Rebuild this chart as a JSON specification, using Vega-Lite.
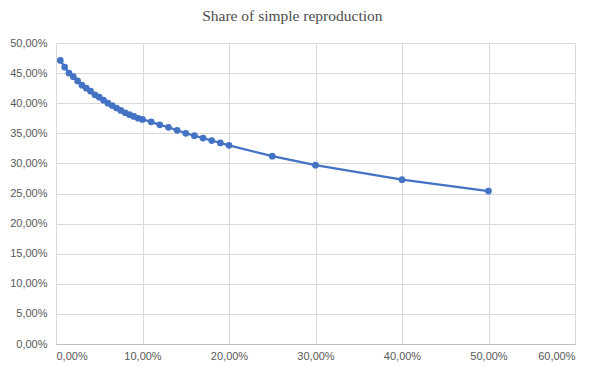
{
  "$schema": "https://vega.github.io/schema/vega-lite/v6.json",
  "autosize": "none",
  "width": 519,
  "height": 301,
  "padding": {"left": 56, "top": 43, "right": 32, "bottom": 32},
  "background": "white",
  "config": {
    "locale": {"number": {"decimal": ",", "thousands": ".", "grouping": [3], "currency": ["", " €"]}},
    "view": {"stroke": null},
    "axis": {
      "labelFont": "Liberation Sans",
      "labelFontSize": 11,
      "labelColor": "#595959",
      "gridColor": "#d9d9d9",
      "gridWidth": 1,
      "ticks": false,
      "title": null,
      "domain": false
    }
  },
  "title": {
    "text": "Share of simple reproduction",
    "font": "Liberation Serif",
    "fontSize": 15.5,
    "fontWeight": "normal",
    "color": "#4d4d4d",
    "anchor": "middle",
    "frame": "bounds",
    "offset": 13
  },
  "data": {
    "values": [
      {"x": 0.005, "y": 0.471},
      {"x": 0.010, "y": 0.460},
      {"x": 0.015, "y": 0.450},
      {"x": 0.020, "y": 0.444},
      {"x": 0.025, "y": 0.437},
      {"x": 0.030, "y": 0.430},
      {"x": 0.035, "y": 0.425},
      {"x": 0.040, "y": 0.420},
      {"x": 0.045, "y": 0.414},
      {"x": 0.050, "y": 0.410},
      {"x": 0.055, "y": 0.405},
      {"x": 0.060, "y": 0.400},
      {"x": 0.065, "y": 0.396},
      {"x": 0.070, "y": 0.392},
      {"x": 0.075, "y": 0.388},
      {"x": 0.080, "y": 0.384},
      {"x": 0.085, "y": 0.381},
      {"x": 0.090, "y": 0.378},
      {"x": 0.095, "y": 0.375},
      {"x": 0.100, "y": 0.373},
      {"x": 0.110, "y": 0.369},
      {"x": 0.120, "y": 0.364},
      {"x": 0.130, "y": 0.360},
      {"x": 0.140, "y": 0.355},
      {"x": 0.150, "y": 0.350},
      {"x": 0.160, "y": 0.346},
      {"x": 0.170, "y": 0.342},
      {"x": 0.180, "y": 0.338},
      {"x": 0.190, "y": 0.334},
      {"x": 0.200, "y": 0.330},
      {"x": 0.250, "y": 0.312},
      {"x": 0.300, "y": 0.297},
      {"x": 0.400, "y": 0.273},
      {"x": 0.500, "y": 0.254}
    ]
  },
  "mark": {"type": "line", "color": "#4472C4", "strokeWidth": 2.25, "point": {"filled": true, "color": "#4472C4", "size": 45, "opacity": 1}},
  "encoding": {
    "x": {
      "field": "x", "type": "quantitative",
      "scale": {"domain": [0, 0.6], "nice": false},
      "axis": {"format": ".2%", "values": [0, 0.1, 0.2, 0.3, 0.4, 0.5, 0.6], "domain": true, "domainColor": "#bfbfbf", "domainWidth": 1, "labelPadding": 6, "gridColor": "#d9d9d9"}
    },
    "y": {
      "field": "y", "type": "quantitative",
      "scale": {"domain": [0, 0.5], "nice": false},
      "axis": {"format": ".2%", "values": [0, 0.05, 0.1, 0.15, 0.2, 0.25, 0.3, 0.35, 0.4, 0.45, 0.5], "labelPadding": 9}
    }
  }
}
